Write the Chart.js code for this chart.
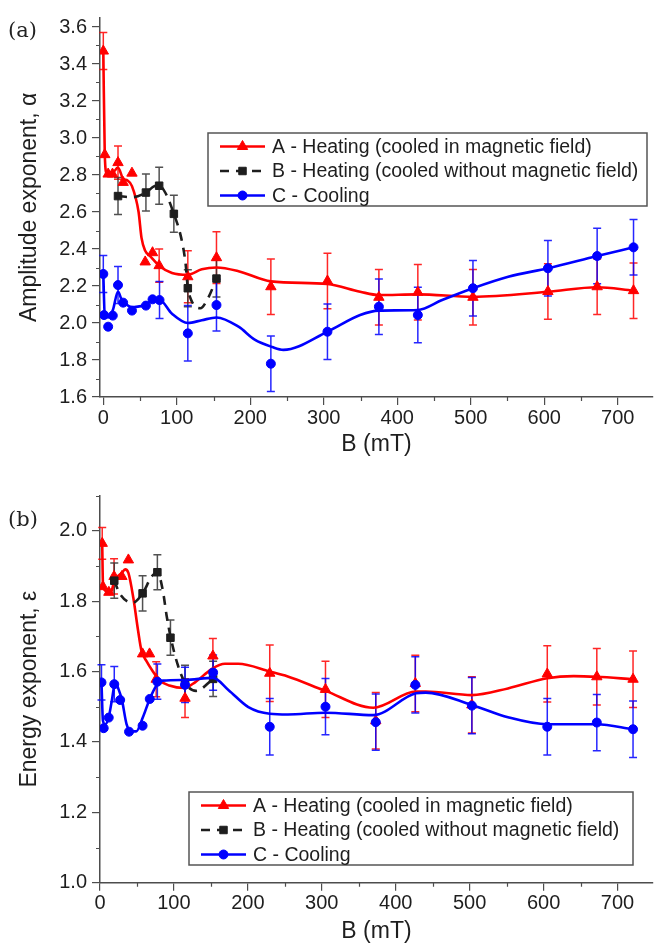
<!DOCTYPE html>
<html><head><meta charset="utf-8">
<script src="https://cdn.jsdelivr.net/npm/chart.js@4/dist/chart.umd.min.js"></script>
<style>
html,body{margin:0;padding:0;background:#fff;overflow:hidden;width:660px;height:943px;}
canvas{position:absolute;left:0;}
#ca{top:0;width:660px;height:470px;} #cb{top:470px;width:660px;height:473px;}
.pl{position:absolute;left:8px;font-family:"DejaVu Serif",serif;font-size:21px;line-height:24px;color:#222;}
</style></head><body>
<canvas id="ca" width="660" height="470"></canvas>
<canvas id="cb" width="660" height="473"></canvas>
<div class="pl" style="top:18px">(a)</div>
<div class="pl" style="top:507px">(b)</div>
<script>
// ---------- Panel (a): amplitude exponent ----------
const aA_B   = [0, 2, 6.6, 12.5, 20, 27, 39, 57, 67, 76, 115, 154, 228, 305, 375, 428, 503, 605, 672, 721.5];
const aA_val = [3.47, 2.91, 2.805, 2.805, 2.867, 2.76, 2.81, 2.33, 2.38, 2.31, 2.25, 2.353, 2.196, 2.227, 2.139, 2.166, 2.139, 2.17, 2.196, 2.175];
const aA_err = [0.1, null, null, null, 0.09, null, null, null, null, 0.09, 0.14, 0.14, 0.15, 0.15, 0.15, 0.15, 0.15, 0.15, 0.15, 0.15];
const aB_B   = [20, 58, 76, 96, 115, 154];
const aB_val = [2.686, 2.705, 2.742, 2.59, 2.188, 2.24];
const aB_err = [0.1, 0.1, 0.1, 0.1, 0.1, 0.1];
const aC_B   = [0, 1, 6.6, 12.9, 20, 27, 39, 58, 67, 76.5, 115, 154, 228, 305, 375, 428, 503, 605, 672, 721.5];
const aC_val = [2.265, 2.043, 1.98, 2.04, 2.205, 2.11, 2.067, 2.094, 2.128, 2.124, 1.944, 2.097, 1.78, 1.953, 2.088, 2.043, 2.188, 2.296, 2.362, 2.409];
const aC_err = [0.1, null, null, null, 0.1, null, null, null, null, 0.1, 0.15, 0.14, 0.15, 0.15, 0.15, 0.15, 0.15, 0.15, 0.15, 0.15];
// fitted curves
const aA_curveB = [0, 2, 4.6, 12, 20, 27, 33, 39, 48, 52, 57, 64, 76, 93.5, 115, 134, 154, 184, 228, 305, 349.5, 375, 428, 503, 605, 672, 721.5];
const aA_curve  = [3.47, 2.91, 2.81, 2.81, 2.84, 2.78, 2.77, 2.74, 2.6, 2.46, 2.39, 2.36, 2.31, 2.27, 2.26, 2.29, 2.30, 2.28, 2.225, 2.211, 2.169, 2.151, 2.155, 2.142, 2.169, 2.193, 2.175];
const aB_curveB = [20, 40, 58, 70, 76, 85, 96, 106, 112, 115, 119, 125, 132, 142, 154];
const aB_curve  = [2.686, 2.68, 2.705, 2.74, 2.742, 2.70, 2.59, 2.46, 2.32, 2.19, 2.13, 2.09, 2.08, 2.13, 2.24];
const aC_curveB = [0, 2, 6.6, 13, 20, 24.6, 31.4, 39, 49, 58, 67, 76.5, 93.5, 115, 134, 154, 184, 206, 230, 245, 305, 349.5, 375, 428, 461, 503, 551, 605, 672, 721.5];
const aC_curve  = [2.265, 2.04, 2.03, 2.07, 2.17, 2.13, 2.10, 2.085, 2.09, 2.097, 2.124, 2.124, 2.05, 2.0, 2.015, 2.03, 1.98, 1.91, 1.87, 1.855, 1.953, 2.043, 2.067, 2.07, 2.124, 2.188, 2.25, 2.296, 2.362, 2.409];

// ---------- Panel (b): energy exponent ----------
const bA_B   = [3, 4, 12, 19, 29.6, 38.4, 57.6, 67, 76, 115, 152.7, 229.6, 305, 373, 426.5, 503, 605, 672, 721];
const bA_val = [1.964, 1.841, 1.825, 1.87, 1.87, 1.917, 1.65, 1.65, 1.578, 1.524, 1.644, 1.595, 1.549, 1.46, 1.566, 1.505, 1.593, 1.585, 1.578];
const bA_err = [0.045, null, null, 0.05, null, null, null, null, 0.05, 0.055, 0.05, 0.08, 0.08, 0.08, 0.08, 0.08, 0.08, 0.08, 0.08];
const bB_B   = [19.3, 57.6, 77.6, 95.3, 115, 153];
const bB_val = [1.858, 1.822, 1.882, 1.696, 1.568, 1.579];
const bB_err = [0.05, 0.05, 0.05, 0.05, 0.05, 0.05];
const bC_B   = [2, 5, 11.8, 19.3, 27.3, 39.3, 57.6, 67.3, 77.6, 115, 153, 229.6, 305, 373, 426.5, 503, 605, 672, 721];
const bC_val = [1.569, 1.439, 1.469, 1.564, 1.519, 1.429, 1.446, 1.522, 1.571, 1.562, 1.597, 1.443, 1.5, 1.456, 1.562, 1.503, 1.443, 1.455, 1.436];
const bC_err = [0.05, null, null, 0.05, null, null, null, null, 0.05, 0.05, 0.05, 0.08, 0.08, 0.08, 0.08, 0.08, 0.08, 0.08, 0.08];
const bA_curveB = [3, 4, 7, 13.6, 20, 29.6, 34, 38.4, 45, 51.6, 56, 62.7, 71.6, 80.4, 93.8, 113.8, 129, 151, 169, 187, 229.6, 254, 305, 369.6, 427.3, 440.7, 503, 551.8, 605, 640.7, 672, 721];
const bA_curve  = [1.964, 1.85, 1.83, 1.82, 1.86, 1.88, 1.89, 1.88, 1.81, 1.715, 1.66, 1.63, 1.60, 1.575, 1.56, 1.553, 1.57, 1.607, 1.622, 1.622, 1.6, 1.586, 1.545, 1.497, 1.543, 1.543, 1.533, 1.552, 1.581, 1.587, 1.585, 1.578];
const bB_curveB = [19.3, 27, 44, 57.6, 70, 77.6, 85, 90, 95.3, 105, 115, 130, 153];
const bB_curve  = [1.858, 1.82, 1.795, 1.822, 1.87, 1.882, 1.83, 1.76, 1.70, 1.62, 1.568, 1.545, 1.579];
const bC_curveB = [2, 4, 7, 11.8, 16.2, 20.7, 25, 29.6, 36, 42.7, 49, 58, 67.3, 76.4, 85, 115, 153, 174, 200.7, 229.6, 254, 305, 369.6, 427.3, 440.7, 503, 551.8, 605, 672, 721];
const bC_curve  = [1.569, 1.46, 1.45, 1.47, 1.52, 1.57, 1.55, 1.52, 1.45, 1.43, 1.43, 1.47, 1.522, 1.56, 1.574, 1.576, 1.582, 1.547, 1.499, 1.48, 1.478, 1.483, 1.476, 1.538, 1.54, 1.505, 1.47, 1.45, 1.45, 1.436];

const legendLabels = ['A - Heating (cooled in magnetic field)', 'B - Heating (cooled without magnetic field)', 'C - Cooling'];

const RED = '#ff0000', BLK = '#1e1e1e', BLU = '#0000ff', AXIS = '#4d4d4d', TXT = '#1e1e1e';
const FONT = "'Liberation Sans', Arial, sans-serif";

function pts(xs, ys) { return xs.map((x, i) => ({x: x, y: ys[i]})); }

const errorBars = {
  id: 'errorBars',
  beforeDatasetsDraw(chart) {
    const ctx = chart.ctx, xs = chart.scales.x, ys = chart.scales.y;
    ctx.save();
    chart.data.datasets.forEach(ds => {
      if (!ds.errors) return;
      ctx.strokeStyle = ds.errorColor; ctx.lineWidth = 1.5; ctx.globalAlpha = 0.85;
      ds.data.forEach((p, i) => {
        const e = ds.errors[i]; if (e == null) return;
        const x = xs.getPixelForValue(p.x), y1 = ys.getPixelForValue(p.y + e), y2 = ys.getPixelForValue(p.y - e);
        ctx.beginPath();
        ctx.moveTo(x, y1); ctx.lineTo(x, y2);
        ctx.moveTo(x - 4, y1); ctx.lineTo(x + 4, y1);
        ctx.moveTo(x - 4, y2); ctx.lineTo(x + 4, y2);
        ctx.stroke();
      });
    });
    ctx.restore();
  }
};

const minorTicks = {
  id: 'minorTicks',
  afterDraw(chart, args, opts) {
    const ctx = chart.ctx, xs = chart.scales.x, ys = chart.scales.y;
    ctx.save(); ctx.strokeStyle = AXIS; ctx.lineWidth = 1.2;
    ctx.beginPath();
    for (let k = Math.ceil(xs.min / opts.xStep - 1e-9); k <= Math.floor(xs.max / opts.xStep + 1e-9); k++) {
      if (k % 2 === 0) continue;
      const px = Math.round(xs.getPixelForValue(k * opts.xStep)) + 0.5;
      ctx.moveTo(px, chart.chartArea.bottom); ctx.lineTo(px, chart.chartArea.bottom + 4);
    }
    for (let k = Math.ceil(ys.min / opts.yStep - 1e-9); k <= Math.floor(ys.max / opts.yStep + 1e-9); k++) {
      if (k % 2 === 0) continue;
      const py = Math.round(ys.getPixelForValue(k * opts.yStep)) + 0.5;
      ctx.moveTo(chart.chartArea.left, py); ctx.lineTo(chart.chartArea.left - 4, py);
    }
    ctx.stroke();
    ctx.restore();
  }
};

function marker(ctx, style, x, y, r, color) {
  ctx.fillStyle = color; ctx.strokeStyle = color; ctx.lineWidth = 1; ctx.setLineDash([]);
  ctx.beginPath();
  if (style === 'triangle') {
    let rad = 0;
    ctx.moveTo(x + Math.sin(rad) * r, y - Math.cos(rad) * r);
    rad += 2 * Math.PI / 3; ctx.lineTo(x + Math.sin(rad) * r, y - Math.cos(rad) * r);
    rad += 2 * Math.PI / 3; ctx.lineTo(x + Math.sin(rad) * r, y - Math.cos(rad) * r);
    ctx.closePath();
  } else if (style === 'rect') {
    const s = r / Math.SQRT2; ctx.rect(x - s, y - s, 2 * s, 2 * s);
  } else {
    ctx.arc(x, y, r, 0, 2 * Math.PI);
  }
  ctx.fill(); ctx.stroke();
}

const boxLegend = {
  id: 'boxLegend',
  afterDraw(chart, args, o) {
    const ctx = chart.ctx;
    ctx.save();
    ctx.fillStyle = '#fff'; ctx.fillRect(o.x, o.y, o.w, o.h);
    ctx.strokeStyle = '#555'; ctx.lineWidth = 1.5; ctx.strokeRect(o.x, o.y, o.w, o.h);
    const items = [
      {color: RED, dash: [], style: 'triangle', r: 6},
      {color: BLK, dash: [9, 7], style: 'rect', r: 5.3},
      {color: BLU, dash: [], style: 'circle', r: 4.5}
    ];
    items.forEach((it, i) => {
      const y = o.y + o.row0 + i * o.rowGap;
      ctx.strokeStyle = it.color; ctx.lineWidth = 2.6; ctx.setLineDash(it.dash);
      ctx.beginPath(); ctx.moveTo(o.x + 12, y); ctx.lineTo(o.x + 57, y); ctx.stroke();
      marker(ctx, it.style, o.x + 34.5, y, it.r, it.color);
      ctx.fillStyle = TXT; ctx.font = '19.5px ' + FONT; ctx.textBaseline = 'middle'; ctx.textAlign = 'left';
      ctx.fillText(legendLabels[i], o.x + o.textX, y + 1);
    });
    ctx.restore();
  }
};

function makeChart(id, cfg) {
  const ds = [
    {data: pts(cfg.A_cB, cfg.A_c), showLine: true, pointRadius: 0, borderColor: RED, borderWidth: 2.6, cubicInterpolationMode: 'monotone', order: 6},
    {data: pts(cfg.A_B, cfg.A_v), showLine: false, pointStyle: 'triangle', pointRadius: 6, pointBackgroundColor: RED, pointBorderColor: RED, pointBorderWidth: 1, errors: cfg.A_e, errorColor: RED, order: 5},
    {data: pts(cfg.B_cB, cfg.B_c), showLine: true, pointRadius: 0, borderColor: BLK, borderWidth: 2.6, borderDash: [9, 7], cubicInterpolationMode: 'monotone', order: 4},
    {data: pts(cfg.B_B, cfg.B_v), showLine: false, pointStyle: 'rect', pointRadius: 5.3, pointBackgroundColor: BLK, pointBorderColor: BLK, pointBorderWidth: 1, errors: cfg.B_e, errorColor: '#333', order: 3},
    {data: pts(cfg.C_cB, cfg.C_c), showLine: true, pointRadius: 0, borderColor: BLU, borderWidth: 2.6, cubicInterpolationMode: 'monotone', order: 2},
    {data: pts(cfg.C_B, cfg.C_v), showLine: false, pointStyle: 'circle', pointRadius: 4.5, pointBackgroundColor: BLU, pointBorderColor: BLU, pointBorderWidth: 1, errors: cfg.C_e, errorColor: BLU, order: 1}
  ];
  return new Chart(document.getElementById(id), {
    type: 'scatter',
    data: {datasets: ds},
    plugins: [errorBars, minorTicks, boxLegend],
    options: {
      responsive: false, animation: false, devicePixelRatio: 1,
      layout: {padding: cfg.pad},
      plugins: {legend: {display: false}, tooltip: {enabled: false},
        minorTicks: {xStep: 50, yStep: 0.1}, boxLegend: cfg.legend},
      scales: {
        x: {type: 'linear', min: cfg.xmin, max: cfg.xmax,
          ticks: {stepSize: 100, includeBounds: false, maxRotation: 0, autoSkip: false, padding: 1, color: TXT, font: {family: FONT, size: 20}, callback: v => String(v)},
          grid: {drawOnChartArea: false, drawTicks: true, tickLength: 8, color: AXIS, lineWidth: 1.2},
          border: {display: true, color: AXIS, width: 1.5},
          title: {display: true, text: 'B (mT)', color: TXT, font: {family: FONT, size: 23, lineHeight: 1}, padding: {top: 0, bottom: 0}},
          afterFit: s => { s.height = cfg.xh; }
        },
        y: {type: 'linear', min: cfg.ymin, max: cfg.ymax,
          ticks: {stepSize: 0.2, includeBounds: false, padding: 5, color: TXT, font: {family: FONT, size: 20}, callback: v => v.toFixed(1)},
          grid: {drawOnChartArea: false, drawTicks: true, tickLength: 8, color: AXIS, lineWidth: 1.2},
          border: {display: true, color: AXIS, width: 1.5},
          title: {display: true, text: cfg.ytitle, color: TXT, font: {family: FONT, size: 23, lineHeight: 1}, padding: {top: 18.5, bottom: 0}},
          afterFit: s => { s.width = 100; }
        }
      }
    }
  });
}

makeChart('ca', {
  A_B: aA_B, A_v: aA_val, A_e: aA_err, B_B: aB_B, B_v: aB_val, B_e: aB_err, C_B: aC_B, C_v: aC_val, C_e: aC_err,
  A_cB: aA_curveB, A_c: aA_curve, B_cB: aB_curveB, B_c: aB_curve, C_cB: aC_curveB, C_c: aC_curve,
  xmin: -4.5, xmax: 748, ymin: 1.6, ymax: 3.65, xh: 59.5,
  pad: {top: 17.75, left: 0, right: 0, bottom: 13.5},
  ytitle: 'Amplitude exponent, \u03b1',
  legend: {x: 208, y: 133, w: 439, h: 73, row0: 13.5, rowGap: 24.5, textX: 64}
});
makeChart('cb', {
  A_B: bA_B, A_v: bA_val, A_e: bA_err, B_B: bB_B, B_v: bB_val, B_e: bB_err, C_B: bC_B, C_v: bC_val, C_e: bC_err,
  A_cB: bA_curveB, A_c: bA_curve, B_cB: bB_curveB, B_c: bB_curve, C_cB: bC_curveB, C_c: bC_curve,
  xmin: 0, xmax: 748, ymin: 1.0, ymax: 2.1, xh: 60,
  pad: {top: 25.5, left: 0, right: 0, bottom: 0.3},
  ytitle: 'Energy exponent, \u03b5',
  legend: {x: 189, y: 322, w: 444, h: 73, row0: 13.5, rowGap: 24.5, textX: 64}
});
</script>
</body></html>
